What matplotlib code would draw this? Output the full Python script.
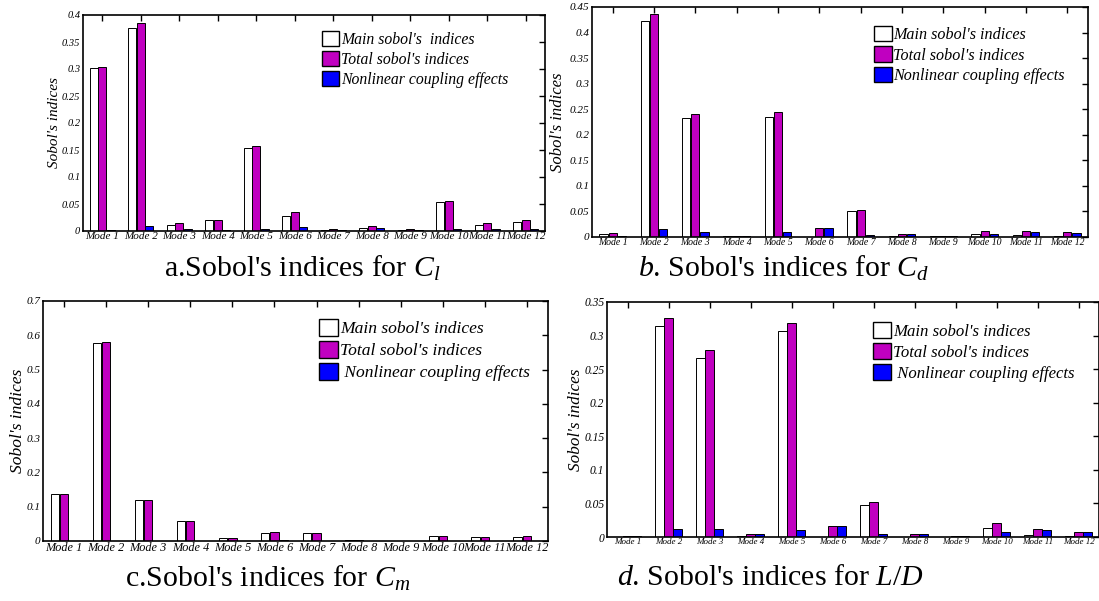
import matplotlib
matplotlib.use("Agg")
import matplotlib.pyplot as plt
import numpy as np
from matplotlib.ticker import FuncFormatter, MultipleLocator
from matplotlib.patches import Patch

plt.rcParams['font.family'] = ['Liberation Serif', 'DejaVu Serif']
plt.rcParams['mathtext.fontset'] = 'custom'
plt.rcParams['mathtext.it'] = 'Liberation Serif:italic'
plt.rcParams['mathtext.rm'] = 'Liberation Serif'

modes = [f"Mode {i}" for i in range(1, 13)]

# Panel a: Cl
cl_main = [0.302, 0.376, 0.011, 0.020, 0.154, 0.028, 0.002, 0.005, 0.002, 0.053, 0.011, 0.017]
cl_total = [0.304, 0.386, 0.014, 0.020, 0.157, 0.035, 0.004, 0.010, 0.004, 0.055, 0.015, 0.020]
cl_nl = [0.002, 0.010, 0.004, 0.001, 0.004, 0.007, 0.002, 0.005, 0.002, 0.003, 0.004, 0.003]

# Panel b: Cd
cd_main = [0.005, 0.423, 0.232, 0.001, 0.235, 0.000, 0.050, 0.001, 0.001, 0.006, 0.004, 0.002]
cd_total = [0.007, 0.437, 0.240, 0.002, 0.245, 0.017, 0.053, 0.006, 0.001, 0.012, 0.012, 0.009]
cd_nl = [0.002, 0.015, 0.009, 0.001, 0.010, 0.017, 0.003, 0.005, 0.001, 0.006, 0.009, 0.007]

# Panel c: Cm
cm_main = [0.137, 0.578, 0.119, 0.058, 0.009, 0.024, 0.022, 0.002, 0.001, 0.014, 0.013, 0.013]
cm_total = [0.138, 0.580, 0.120, 0.059, 0.010, 0.027, 0.022, 0.004, 0.001, 0.015, 0.013, 0.015]
cm_nl = [0.001, 0.001, 0.001, 0.001, 0.001, 0.002, 0.001, 0.001, 0.001, 0.001, 0.001, 0.001]

# Panel d: L/D
ld_main = [0.000, 0.314, 0.266, 0.001, 0.307, 0.000, 0.048, 0.000, 0.000, 0.014, 0.003, 0.001]
ld_total = [0.002, 0.326, 0.279, 0.004, 0.318, 0.017, 0.052, 0.004, 0.002, 0.021, 0.012, 0.008]
ld_nl = [0.002, 0.012, 0.012, 0.004, 0.011, 0.017, 0.004, 0.004, 0.002, 0.007, 0.010, 0.008]

W, H = 1099, 601
fig = plt.figure(figsize=(W / 100, H / 100), dpi=100)
fig.patch.set_facecolor('white')


def rect(x0, y0, x1, y1):
    return [x0 / W, 1 - y1 / H, (x1 - x0) / W, (y1 - y0) / H]


panels = [
    dict(r=rect(83, 15, 545, 231), data=(cl_main, cl_total, cl_nl), ymax=0.4, step=0.05,
         labels=["Main sobol's  indices", "Total sobol's indices", "Nonlinear coupling effects"],
         leg=(322, 31), ylab_x=55, ylab_fs=11, xt_fs=8, yt_fs=7.5, leg_fs=11.3,
         title=r"a.Sobol's indices for $\mathit{C_l}$", tpos=(302, 268)),
    dict(r=rect(592, 7, 1088, 237), data=(cd_main, cd_total, cd_nl), ymax=0.45, step=0.05,
         labels=["Main sobol's indices", "Total sobol's indices", "Nonlinear coupling effects"],
         leg=(874, 26), ylab_x=558, ylab_fs=12, xt_fs=7, yt_fs=8, leg_fs=11.6,
         title=r"$\mathit{b}$. Sobol's indices for $\mathit{C_d}$", tpos=(783, 268)),
    dict(r=rect(43, 301, 548, 541), data=(cm_main, cm_total, cm_nl), ymax=0.7, step=0.1,
         labels=["Main sobol's indices", "Total sobol's indices", " Nonlinear coupling effects"],
         leg=(319, 319), ylab_x=18, ylab_fs=12.6, xt_fs=8.8, yt_fs=8, leg_fs=12.6,
         title=r"c.Sobol's indices for $\mathit{C_m}$", tpos=(268, 578)),
    dict(r=rect(607, 302, 1099, 537), data=(ld_main, ld_total, ld_nl), ymax=0.35, step=0.05,
         labels=["Main sobol's indices", "Total sobol's indices", " Nonlinear coupling effects"],
         leg=(873, 322), ylab_x=576, ylab_fs=12.3, xt_fs=6.5, yt_fs=8.3, leg_fs=12.1,
         title=r"$\mathit{d}$. Sobol's indices for $\mathit{L/D}$", tpos=(770, 578)),
]

x = np.arange(1, 13)
bw = 0.2
colors = ['white', '#C000C0', '#0000FF']
offsets = [-0.22, 0.0, 0.22]

for p in panels:
    ax = fig.add_axes(p['r'])
    main, total, nl = p['data']
    # shadow for white bars
    ax.bar(x + offsets[0] + 0.035, main, width=bw, color='#9a9a9a', edgecolor='none', zorder=1)
    for vals, c, off in zip((main, total, nl), colors, offsets):
        ax.bar(x + off, vals, width=bw, color=c, edgecolor='black', linewidth=0.7, zorder=2)
    ax.set_xlim(0.5, 12.5)
    ax.set_ylim(0, p['ymax'])
    ax.yaxis.set_major_locator(MultipleLocator(p['step']))
    ax.yaxis.set_major_formatter(FuncFormatter(lambda v, pos: '%g' % round(v, 3)))
    ax.set_xticks(x)
    ax.set_xticklabels(modes, fontsize=p['xt_fs'], style='italic')
    for lab in ax.get_yticklabels():
        lab.set_fontsize(p['yt_fs'])
        lab.set_style('italic')
    ax.tick_params(axis='x', which='both', direction='in', top=True, bottom=False, length=4,
                   pad=1, width=1)
    ax.tick_params(axis='y', which='both', direction='in', right=True, left=False, length=4,
                   pad=2, width=1)
    for s in ax.spines.values():
        s.set_linewidth(1.2)
    yc = p['r'][1] + p['r'][3] / 2
    fig.text(p['ylab_x'] / W, yc, "Sobol's indices", rotation=90, ha='center', va='center',
             fontsize=p['ylab_fs'], style='italic')
    handles = [Patch(facecolor=c, edgecolor='black', linewidth=1) for c in colors]
    fig.legend(handles, p['labels'], loc='upper left',
               bbox_to_anchor=(p['leg'][0] / W, 1 - p['leg'][1] / H),
               frameon=False, prop={'style': 'italic', 'size': p['leg_fs'], 'family': 'Liberation Serif'},
               handlelength=1.1, handleheight=1.1, handletextpad=0.1, labelspacing=0.2,
               borderpad=0, borderaxespad=0)
    fig.text(p['tpos'][0] / W, 1 - p['tpos'][1] / H, p['title'], ha='center', va='center',
             fontsize=21.5)

fig.savefig('out.png', dpi=100)
